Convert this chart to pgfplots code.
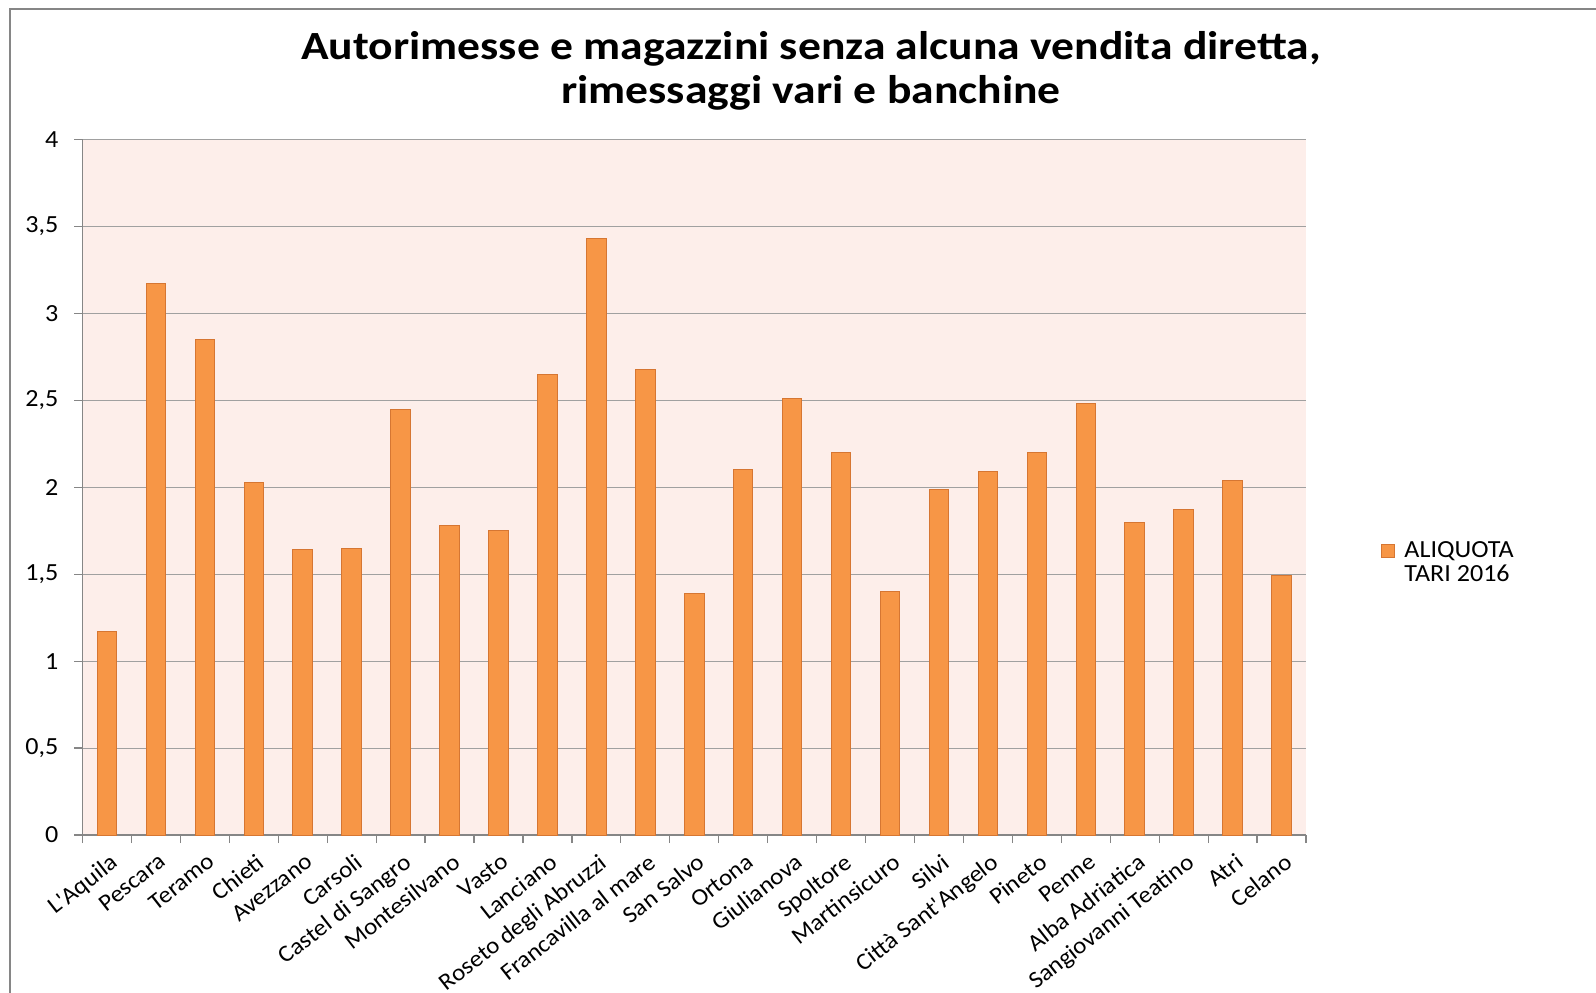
\documentclass[border=0pt]{standalone}
\usepackage{pgfplots}
\pgfplotsset{compat=1.18}
\usepackage{fontspec}
\setmainfont{Carlito}
\newfontfamily\titlefont{Carlito}[FakeStretch=1.14]
\newfontfamily\labelfont{Carlito}[FakeStretch=1.06]
\definecolor{barfill}{RGB}{247,150,70}
\definecolor{baredge}{RGB}{214,118,50}
\definecolor{bgpink}{RGB}{253,238,234}
\definecolor{gridgray}{RGB}{160,160,160}
\definecolor{framegray}{RGB}{134,134,134}
\begin{document}
\begin{tikzpicture}
\useasboundingbox (0,0) rectangle (798pt,-496pt);
\draw[framegray, line width=1.2pt] (5pt,-497pt) -- (5pt,-4.5pt) -- (799pt,-4.5pt);
\node[anchor=base, inner sep=0pt, font=\titlefont\fontsize{20}{24}\selectfont\bfseries] at (405.5pt,-29.5pt) {Autorimesse e magazzini senza alcuna vendita diretta,};
\node[anchor=base, inner sep=0pt, font=\titlefont\fontsize{20}{24}\selectfont\bfseries] at (405.5pt,-51.5pt) {rimessaggi vari e banchine};
\begin{axis}[
  at={(41.25pt,-417.5pt)}, anchor=south west,
  scale only axis, width=611.75pt, height=347.75pt,
  xmin=-0.5, xmax=24.5, ymin=0, ymax=4,
  axis background/.style={fill=bgpink},
  axis x line*=bottom, axis y line*=left,
  axis line style={draw=framegray, line width=0.6pt},
  xtick={-0.5,0.5,...,24.5},
  x tick label as interval,
  xticklabels={L'Aquila,Pescara,Teramo,Chieti,Avezzano,Carsoli,Castel di Sangro,Montesilvano,Vasto,Lanciano,Roseto degli Abruzzi,Francavilla al mare,San Salvo,Ortona,Giulianova,Spoltore,Martinsicuro,Silvi,Città Sant'Angelo,Pineto,Penne,Alba Adriatica,Sangiovanni Teatino,Atri,Celano},
  ytick={0,0.5,...,4},
  tick align=outside, major tick length=4pt,
  tick style={draw=framegray, line width=0.6pt},
  ymajorgrids, grid style={draw=gridgray, line width=0.5pt},
  tick label style={font=\labelfont\fontsize{12.3}{14}\selectfont, text=black},
  xticklabel style={yshift=-4.5pt, xshift=1pt, rotate=38, anchor=north east, inner sep=0pt, font=\labelfont\fontsize{11.8}{14}\selectfont},
  yticklabel style={xshift=-4.5pt, /pgf/number format/.cd, use comma, fixed, assume math mode=true},
  legend style={draw=none, fill=none, at={(1.0862,0.43)}, anchor=north west, inner sep=0pt,
    font=\labelfont\fontsize{12.3}{12}\selectfont, cells={anchor=base west}},
]
\addplot[ybar, bar width=9.75pt, bar shift=0pt, fill=barfill, draw=baredge, line width=0.5pt,
  legend image code/.code={\path[fill=none, draw=none] (0pt,-0.3pt) rectangle (6.5pt,6.2pt); \draw[overlay, fill=barfill, draw=baredge, line width=0.5pt] (-15.3pt,-0.3pt) rectangle (-8.8pt,6.2pt);}]
coordinates {
(0,1.17) (1,3.17) (2,2.85) (3,2.03) (4,1.64) (5,1.65) (6,2.45) (7,1.78) (8,1.75) (9,2.65)
(10,3.43) (11,2.68) (12,1.39) (13,2.10) (14,2.51) (15,2.20) (16,1.40) (17,1.99) (18,2.09) (19,2.20)
(20,2.48) (21,1.80) (22,1.87) (23,2.04) (24,1.49)
};
\legend{{\hspace*{-12.2pt}\begin{tabular}[t]{@{}l@{}}ALIQUOTA\\TARI 2016\end{tabular}}}
\end{axis}
\end{tikzpicture}
\end{document}
